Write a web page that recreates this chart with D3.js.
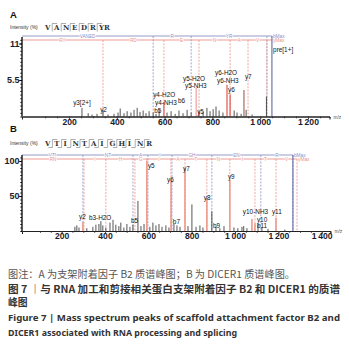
<!DOCTYPE html>
<html>
<head>
<meta charset="utf-8">
<script src="https://cdn.jsdelivr.net/npm/d3@7"></script>
<style>
  body { margin: 0; background: #fff; }
  svg { display: block; }
</style>
</head>
<body>
<svg id="chart" width="349" height="354"></svg>
<script>
// ---------- panel A : VANEDRYR ----------
const aSequence = ["V", "A", "N", "E", "D", "R", "YR"];
const aPeaks = [ // [m/z, intensity %, kind]
  [254, 1.3, "k"], [280, 0.5, "k"], [296, 0.3, "k"], [317, 0.4, "k"], [342, 0.9, "k"],
  [363, 0.3, "k"], [388, 0.4, "k"], [405, 0.6, "k"], [414, 1.2, "k"], [430, 0.5, "k"],
  [443, 0.8, "k"], [459, 0.6, "k"], [472, 1.0, "k"], [485, 1.3, "k"], [497, 0.7, "k"],
  [510, 0.9, "k"], [522, 0.5, "k"], [535, 0.8, "k"], [552, 0.6, "k"], [564, 0.4, "k"],
  [577, 1.0, "k"], [597, 2.2, "r"], [610, 0.6, "k"], [627, 0.8, "k"], [644, 0.4, "k"],
  [660, 0.9, "k"], [677, 0.5, "k"], [694, 1.0, "k"], [711, 0.6, "k"], [732, 4.3, "p"],
  [744, 0.8, "r"], [761, 0.7, "k"], [777, 1.3, "k"], [790, 0.8, "k"], [803, 1.1, "k"],
  [815, 1.5, "k"], [828, 0.9, "k"], [844, 0.6, "k"], [861, 4.8, "r"], [874, 3.3, "r"],
  [891, 0.9, "k"], [903, 0.6, "k"], [920, 0.4, "k"], [932, 4.0, "b"], [941, 1.0, "k"],
  [966, 0.3, "k"], [1026, 3.0, "k"]
];
const aLabels = [ // [text, m/z of left edge, level]
  ["y3[2+]", 217, 1.66], ["y2", 330, 0.68], ["y4-H2O", 552, 2.94], ["y4-NH3", 560, 1.73],
  ["b5", 556, 0.53], ["y5-H2O", 677, 5.35], ["y5-NH3", 685, 4.22], ["b6", 656, 1.96],
  ["y5", 736, 0.38], ["y6-H2O", 811, 6.18], ["y6-NH3", 819, 5.12], ["y6", 865, 3.62],
  ["y7", 936, 5.58], ["pre[1+]", 1054, 9.72]
];
const aBIons = [552, 711, 1028];          // b ladder cuts
const aBText = ["VANED", "R", "YR"];
const aYIons = [342, 597, 744, 874, 949, 1028];
const aYText = ["RY", "RD", "E", "N", "A", "V"];
const aPrecursor = 1049;
const aTicks = [200, 400, 600, 800, 1000, 1200];
const aYTicks = [5.5, 11];

// ---------- panel B : VTINTAIGHINR ----------
const bSequence = ["V", "T", "I", "N", "T", "A", "I", "G", "H", "I", "N", "R"];
const bPeaks = [
  [261, 6, "k"], [270, 8, "k"], [280, 5, "k"], [298, 13, "r"], [316, 4, "k"],
  [344, 6, "k"], [358, 9, "k"], [372, 10, "k"], [381, 14, "k"], [390, 8, "k"],
  [404, 5, "k"], [423, 12, "k"], [437, 16, "k"], [450, 9, "k"], [464, 7, "k"],
  [473, 12, "k"], [487, 5, "k"], [501, 10, "k"], [515, 6, "k"], [529, 9, "k"],
  [552, 43, "k"], [566, 7, "k"], [580, 10, "k"], [593, 100, "r"], [607, 6, "k"],
  [621, 12, "k"], [635, 8, "k"], [649, 10, "k"], [663, 6, "k"], [681, 8, "k"],
  [695, 5, "k"], [705, 73, "r"], [718, 10, "k"], [732, 8, "k"], [746, 6, "k"],
  [769, 90, "r"], [783, 7, "k"], [801, 38, "k"], [820, 6, "k"], [838, 8, "k"],
  [852, 5, "k"], [870, 47, "r"], [893, 28, "k"], [912, 6, "k"], [930, 4, "k"],
  [949, 7, "k"], [976, 73, "r"], [995, 5, "k"], [1013, 4, "k"], [1032, 6, "k"],
  [1040, 7, "k"], [1055, 4, "k"], [1078, 17, "r"], [1092, 11, "r"], [1106, 9, "k"],
  [1124, 5, "k"], [1152, 3, "k"], [1189, 19, "r"], [1230, 2, "k"]
];
const bLabels = [
  ["y2", 280, 17], ["b3-H2O", 326, 15.7], ["b5", 520, 11.4], ["y5", 598, 90.7],
  ["y6", 686, 70.7], ["y7", 760, 86.4], ["y8", 856, 45], ["b7", 713, 9.3],
  ["b9", 898, 5], ["y9", 967, 73.6], ["y10-NH3", 1036, 23.6], ["y10", 1101, 12.9],
  ["b11", 1101, 4.3], ["y11", 1170, 23.6]
];
const bBIons = [298, 529, 598, 709, 893, 1119, 1267];
const bBText = ["VTI", "NT", "A", "I", "GH", "EN", "R"];
const bYIons = [303, 404, 538, 593, 704, 769, 870, 976, 1092, 1189, 1286];
const bYText = ["RN", "I", "H", "G", "I", "A", "T", "N", "I", "T", "V"];
const bTicks = [200, 400, 600, 800, 1000, 1200, 1400];
const bYTicks = [50, 100];

const captions = [
  { text: "图注：A 为支架附着因子 B2 质谱峰图；B 为 DICER1 质谱峰图。", y: 278, w: 287, bold: false },
  { text: "图 7 ｜与 RNA 加工和剪接相关蛋白支架附着因子 B2 和 DICER1 的质谱", y: 293, w: 332, bold: true },
  { text: "峰图", y: 306, w: 0, bold: true },
  { text: "Figure 7  |   Mass spectrum peaks of scaffold attachment factor B2 and", y: 321, w: 332, bold: true, en: true },
  { text: "DICER1 associated with RNA processing and splicing", y: 336, w: 229, bold: true, en: true }
];

const svg = d3.select("#chart");
const BLUE = "#8a90c4", RED = "#eb9088";
const fmt = d => d >= 1000 ? d3.format(",")(d).replace(",", "\u2009") : d;

function drawPanel(o) {
  const g = svg.append("g");
  const x = d3.scaleLinear().domain(o.xDomain).range([o.left, o.right]);
  const y = d3.scaleLinear().domain([0, o.yMax]).range([o.base, o.yTopTick]);

  // panel letter and sequence header
  g.append("text").attr("x", 10).attr("y", o.letterY).text(o.letter)
    .attr("font-family", "Liberation Sans, Arial").attr("font-weight", "bold")
    .attr("font-size", 9.5).attr("fill", "#111");
  g.append("text").attr("x", 10).attr("y", o.seqY - 1).text("Intensity (%)")
    .attr("font-family", "Liberation Sans, Arial").attr("font-size", 5).attr("fill", "#333");
  const seq = g.append("g");
  o.sequence.forEach((s, i) => {
    const sx = 45 + i * o.seqStep;
    seq.append("text").attr("x", sx).attr("y", o.seqY).text(s)
      .attr("font-family", "DejaVu Serif, serif").attr("font-weight", "bold")
      .attr("font-size", 7).attr("fill", "#333");
    if (i > 0) {
      const bx = sx - 1.8;
      seq.append("path")
        .attr("d", `M${bx + 5},${o.seqY - 6.5}H${bx}V${o.seqY + 1.5}` + (o.boxed ? `H${bx - 4}` : ""))
        .attr("fill", "none").attr("stroke", "#777").attr("stroke-width", 0.6);
    }
  });

  // ladders
  const ladder = (cuts, texts, yy, color, endText) => {
    const xs = [o.left].concat(cuts.map(x));
    g.append("line").attr("x1", o.left).attr("x2", xs[xs.length - 1] + o.ladderExt)
      .attr("y1", yy).attr("y2", yy).attr("stroke", color).attr("stroke-width", 0.9);
    cuts.forEach(c => {
      g.append("line").attr("x1", x(c)).attr("x2", x(c)).attr("y1", yy).attr("y2", o.base)
        .attr("stroke", color).attr("stroke-width", 0.8).attr("stroke-dasharray", "2,1.3");
    });
    texts.forEach((t, i) => {
      g.append("text").attr("x", (xs[i] + xs[i + 1]) / 2).attr("y", yy + 1.6)
        .attr("text-anchor", "middle").text(t)
        .attr("font-family", "Liberation Sans, Arial").attr("font-size", 4.6)
        .attr("fill", color).attr("stroke", "#fff").attr("stroke-width", 1.5)
        .attr("paint-order", "stroke");
    });
    g.append("text").attr("x", xs[xs.length - 1] + o.ladderExt + 1).attr("y", yy + 1.6).text(endText)
      .attr("font-family", "Liberation Sans, Arial").attr("font-size", 4.8).attr("fill", color);
  };
  ladder(o.bIons, o.bText, o.blueY, BLUE, "bMax");
  ladder(o.yIons, o.yText, o.redY, RED, "yMax");
  if (o.precursor) {
    g.append("line").attr("x1", x(o.precursor)).attr("x2", x(o.precursor))
      .attr("y1", o.blueY).attr("y2", o.base).attr("stroke", "#6d76ad").attr("stroke-width", 1.2);
  }

  // peaks
  g.selectAll(".peak").data(o.peaks).join("line").attr("class", "peak")
    .attr("x1", d => x(d[0])).attr("x2", d => x(d[0]))
    .attr("y1", o.base).attr("y2", d => y(d[1]))
    .attr("stroke", d => o.colors[d[2]])
    .attr("stroke-width", d => d[2] === "k" ? 0.8 : o.redWidth);

  // peak labels
  g.selectAll(".lab").data(o.labels).join("text").attr("class", "lab")
    .attr("x", d => x(d[1])).attr("y", d => y(d[2])).text(d => d[0])
    .attr("font-family", "Liberation Sans, Arial").attr("font-size", 6.4).attr("fill", "#111");

  // x axis
  const xa = g.append("g").attr("transform", `translate(0,${o.base})`);
  xa.call(d3.axisBottom(x).tickValues(d3.range(100, o.xDomain[1], 50)).tickSize(1.8).tickFormat(""));
  xa.append("g").call(d3.axisBottom(x).tickValues(o.ticks).tickSize(3).tickFormat(fmt));
  xa.selectAll(".domain").attr("stroke", "#222");
  xa.selectAll(".tick line").attr("stroke", "#444");
  xa.selectAll("text").attr("font-family", "Liberation Sans, Arial").attr("font-weight", "bold")
    .attr("font-size", 8.6).attr("fill", "#1a1a2a").attr("dy", "0.55em").attr("y", 3.5);
  g.append("text").attr("x", o.right + 4).attr("y", o.base + 2).text("m/z")
    .attr("font-family", "Liberation Sans, Arial").attr("font-size", 4.8).attr("fill", "#555");

  // y axis
  const ya = g.append("g").attr("transform", `translate(${o.left},0)`);
  const yTop = y.invert(o.axisTop);
  ya.call(d3.axisLeft(y).tickValues(d3.range(0, yTop, o.minor)).tickSize(1.6).tickFormat(""));
  ya.append("g").call(d3.axisLeft(y).tickValues(o.yTicks).tickSize(2.8).tickFormat(d => d));
  ya.selectAll(".domain").attr("d", `M0,${o.base}V${o.axisTop}`).attr("stroke", "#222");
  ya.selectAll("text").attr("font-family", "Liberation Sans, Arial").attr("font-weight", "bold")
    .attr("font-size", 9).attr("fill", "#1a1a2a").attr("x", -2.5);
}

drawPanel({
  letter: "A", letterY: 18, seqY: 30, seqStep: 9, boxed: false, sequence: aSequence,
  xDomain: [3, 1290], left: 22, right: 329.5, base: 116.5, yMax: 11, yTopTick: 43.5, axisTop: 37,
  minor: 0.55, yTicks: aYTicks, ticks: aTicks, peaks: aPeaks, labels: aLabels,
  bIons: aBIons, bText: aBText, yIons: aYIons, yText: aYText, blueY: 36, redY: 40,
  ladderExt: 5, precursor: aPrecursor, redWidth: 1.2,
  colors: { k: "#2a2a2a", r: "#e0574e", p: "#eaa2a0", b: "#a86a5e" }
});
drawPanel({
  letter: "B", letterY: 132, seqY: 146, seqStep: 9.2, boxed: true, sequence: bSequence,
  xDomain: [17, 1440], left: 22, right: 330.4, base: 231, yMax: 100, yTopTick: 161, axisTop: 155,
  minor: 5, yTicks: bYTicks, ticks: bTicks, peaks: bPeaks, labels: bLabels,
  bIons: bBIons, bText: bBText, yIons: bYIons, yText: bYText, blueY: 155, redY: 159,
  ladderExt: 0, precursor: 1267, redWidth: 1.6,
  colors: { k: "#2a2a2a", r: "#ee9a8c" }
});

// captions
svg.selectAll(".cap").data(captions).join("text").attr("class", "cap")
  .attr("x", 8).attr("y", d => d.y).text(d => d.text)
  .attr("font-family", d => d.en ? "Noto Sans, sans-serif" : "Noto Sans CJK SC, sans-serif")
  .attr("font-weight", d => d.bold ? "bold" : "normal")
  .attr("font-size", d => d.en ? 9.6 : 9.8)
  .attr("fill", d => d.bold ? "#333" : "#555")
  .each(function (d) {
    if (d.w) d3.select(this).attr("textLength", d.w).attr("lengthAdjust", "spacingAndGlyphs");
  });
</script>
</body>
</html>
